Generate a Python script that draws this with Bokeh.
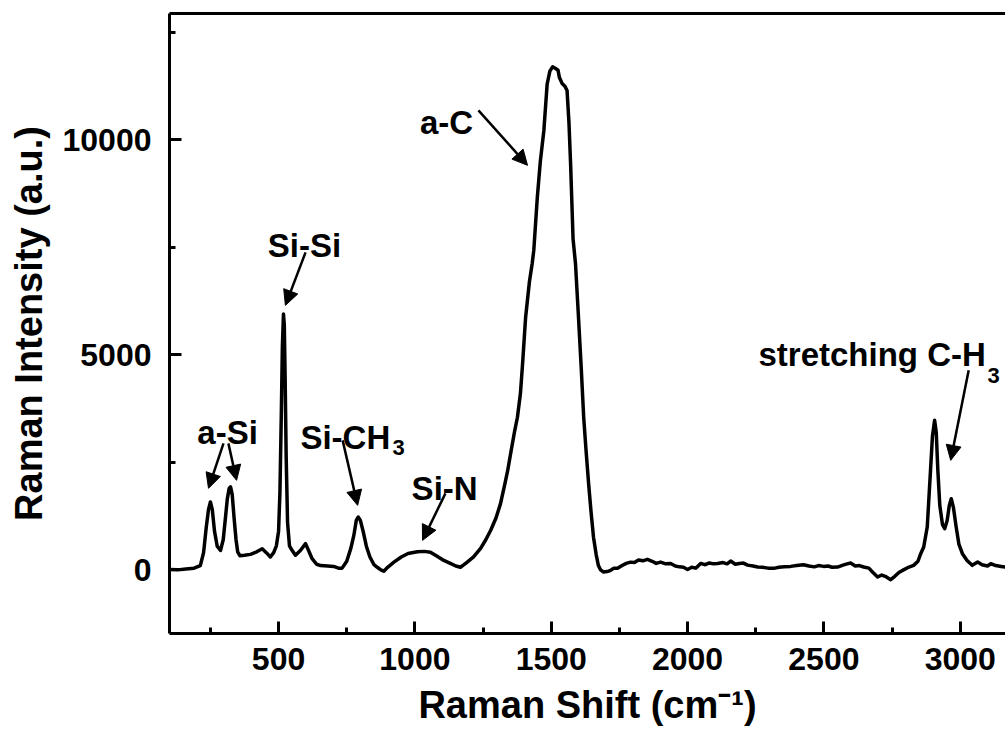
import math
from bokeh.plotting import figure
from bokeh.models import Range1d, FixedTicker, LinearAxis, Label, Arrow, NormalHead
from bokeh.embed import file_html
from bokeh.resources import INLINE

# Raman spectrum
shift = [100, 130, 160, 190, 213, 225, 235, 243, 250, 257, 265, 275, 287, 297, 305, 312, 319, 324, 330, 337,
         344, 350, 358, 375, 397, 420, 440, 455, 470, 482, 492, 500, 505, 510, 514, 518, 521, 524, 528, 533,
         540, 550, 562, 580, 599, 612, 623, 640, 654, 680, 702, 720, 733, 750, 765, 776, 785, 792, 800, 810,
         822, 835, 850, 862, 875, 886, 900, 923, 950, 975, 1009, 1035, 1057, 1080, 1106, 1130, 1150, 1167, 1180, 1192,
         1215, 1241, 1260, 1278, 1297, 1314, 1330, 1340, 1351, 1365, 1376, 1387, 1395, 1406, 1420, 1430, 1436, 1449, 1460, 1473,
         1485, 1495, 1505, 1516, 1525, 1530, 1540, 1550, 1558, 1565, 1571, 1580, 1589, 1600, 1610, 1619, 1628, 1637, 1646, 1655,
         1665, 1673, 1681, 1692, 1705, 1718, 1730, 1743, 1760, 1775, 1791, 1805, 1820, 1836, 1853, 1870, 1885, 1901, 1920, 1938,
         1955, 1970, 1985, 2000, 2015, 2030, 2048, 2065, 2080, 2095, 2110, 2130, 2145, 2158, 2175, 2190, 2205, 2220, 2240, 2257,
         2275, 2295, 2316, 2335, 2355, 2378, 2400, 2425, 2445, 2465, 2480, 2499, 2515, 2530, 2550, 2570, 2585, 2598, 2615, 2630,
         2646, 2665, 2680, 2697, 2712, 2725, 2745, 2760, 2775, 2792, 2812, 2829, 2845, 2855, 2866, 2879, 2891, 2898, 2906, 2912,
         2918, 2925, 2935, 2943, 2952, 2960, 2967, 2975, 2985, 2995, 3008, 3025, 3044, 3064, 3080, 3100, 3112, 3130, 3150, 3166]
intensity = [10, 0, 20, 40, 100, 400, 1000, 1400, 1580, 1400, 900, 550, 450, 700, 1200, 1650, 1900, 1930, 1750, 1200,
             700, 420, 330, 340, 360, 420, 490, 400, 300, 400, 560, 900, 1800, 3600, 5200, 5950, 5700, 4500, 2600, 1100,
             560, 450, 340, 450, 610, 420, 260, 130, 100, 90, 80, 40, 40, 200, 500, 800, 1150, 1230, 1150, 900,
             550, 300, 120, 60, 0, -30, 60, 180, 300, 380, 420, 430, 410, 320, 220, 150, 90, 60, 120, 180,
             300, 500, 700, 920, 1200, 1540, 2000, 2300, 2700, 3200, 3550, 4100, 4800, 5870, 6700, 7120, 7430, 8670, 9500, 10220,
             11300, 11600, 11700, 11660, 11620, 11450, 11310, 11250, 11150, 10400, 9450, 7700, 7120, 5870, 4700, 3550, 2750, 2010, 1350, 760,
             350, 100, 0, -50, -40, -10, 40, 35, 100, 150, 180, 170, 230, 210, 244, 200, 150, 180, 140, 150,
             90, 70, 60, 10, 60, 40, 150, 120, 160, 140, 150, 170, 140, 205, 130, 150, 158, 110, 90, 66,
             60, 40, 35, 60, 70, 81, 100, 120, 90, 70, 100, 81, 90, 60, 66, 110, 140, 158, 90, 100,
             66, 40, -60, -167, -120, -150, -229, -150, -60, 0, 66, 105, 200, 376, 531, 997, 2314, 3100, 3480, 3200,
             2300, 1500, 1050, 958, 1150, 1500, 1656, 1450, 1000, 600, 376, 220, 105, 181, 120, 90, 143, 100, 80, 66]

x_major = [500, 1000, 1500, 2000, 2500, 3000]
x_minor = [250, 750, 1250, 1750, 2250, 2750]
y_major = [0, 5000, 10000]
y_minor = [2500, 7500, 12500]

x_title = "Raman Shift (cm\u207b\u00b9)"
y_title = "Raman Intensity (a.u.)"

# peak annotations: (text, subscript, text x, text y, align, arrows)
annotations = [
    ("a-Si", "", 313, 3198, "center", [(298, 2942, 243, 1896), (316, 2942, 346, 2082)]),
    ("Si-Si", "", 595, 7548, "center", [(599, 7385, 525, 6152)]),
    ("Si-CH", "3", 580, 3082, "left", [(735, 3012, 790, 1500)]),
    ("Si-N", "", 1109, 1896, "center", [(1112, 1779, 1028, 686)]),
    ("a-C", "", 1116, 10409, "center", [(1233, 10688, 1413, 9409)]),
    ("stretching C-H", "3", 2260, 5000, "left", [(3031, 4640, 2965, 2547)]),
]
sub_pos = {"Si-CH": (918, 2850), "stretching C-H": (3100, 4520)}

FONT = "Liberation Sans"

p = figure(width=1005, height=738, output_backend="svg", toolbar_location=None,
           x_range=Range1d(100, 3166), y_range=Range1d(-1480, 12940),
           min_border_left=169, min_border_right=0, min_border_top=13, min_border_bottom=105)
p.outline_line_color = None
p.grid.visible = False
p.background_fill_color = "white"
p.border_fill_color = "white"

p.line(shift, intensity, line_width=3.5, color="black", line_join="round")

for ax, maj, mnr in ((p.xaxis[0], x_major, x_minor), (p.yaxis[0], y_major, y_minor)):
    ax.ticker = FixedTicker(ticks=maj, minor_ticks=mnr)
    ax.axis_line_width = 3
    ax.axis_line_color = "black"
    ax.major_tick_in = 12
    ax.major_tick_out = 0
    ax.minor_tick_in = 6
    ax.minor_tick_out = 0
    ax.major_tick_line_width = 3
    ax.minor_tick_line_width = 3
    ax.major_tick_line_color = "black"
    ax.minor_tick_line_color = "black"
    ax.major_label_text_font = FONT
    ax.major_label_text_font_style = "bold"
    ax.major_label_text_font_size = "32px"
    ax.major_label_text_color = "black"
    ax.axis_label_text_font = FONT
    ax.axis_label_text_font_style = "bold"
    ax.axis_label_text_font_size = "38px"
    ax.axis_label_text_color = "black"
p.xaxis[0].major_label_standoff = 14
p.yaxis[0].major_label_standoff = 18
p.xaxis[0].axis_label = x_title
p.yaxis[0].axis_label = y_title
p.xaxis[0].axis_label_standoff = 11
p.yaxis[0].axis_label_standoff = 10

top = LinearAxis(ticker=FixedTicker(ticks=[]), axis_line_width=3, axis_line_color="black",
                 major_tick_line_color=None, minor_tick_line_color=None,
                 major_label_text_font_size="0px", major_label_standoff=0)
p.add_layout(top, "above")

for text, sub, tx, ty, align, arrows in annotations:
    p.add_layout(Label(x=tx, y=ty, text=text, text_font=FONT, text_font_style="bold",
                       text_font_size="33px", text_align=align, text_baseline="alphabetic",
                       text_color="black"))
    if sub:
        sx, sy = sub_pos[text]
        p.add_layout(Label(x=sx, y=sy, text=sub, text_font=FONT, text_font_style="bold",
                           text_font_size="22px", text_align="left", text_baseline="alphabetic",
                           text_color="black"))
    for x0, y0, x1, y1 in arrows:
        p.add_layout(Arrow(x_start=x0, y_start=y0, x_end=x1, y_end=y1, line_width=2.5, line_color="black",
                           end=NormalHead(size=15, fill_color="black", line_color="black", line_width=1)))

open("out.html", "w").write(file_html(p, INLINE))
